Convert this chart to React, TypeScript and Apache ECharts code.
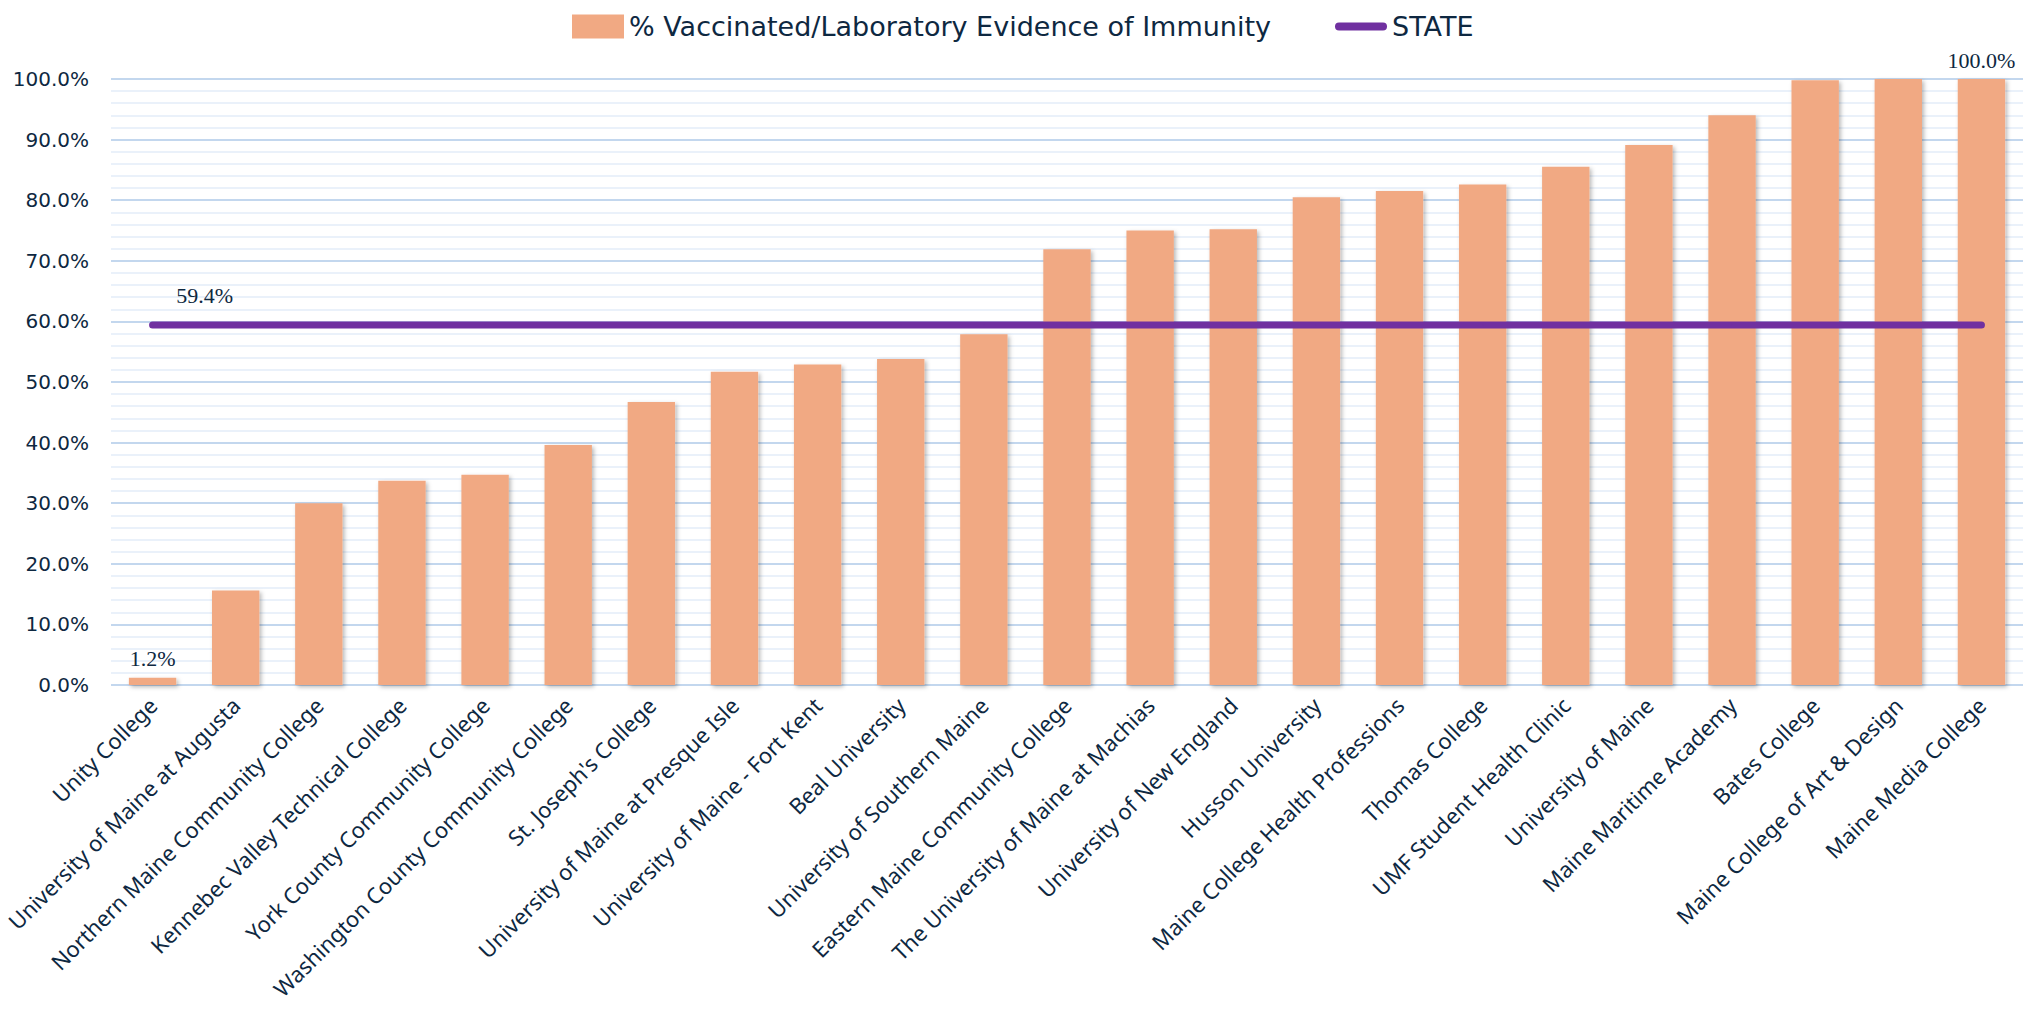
import React, { useEffect, useRef } from "react";
import * as echarts from "echarts";

const categories = [
  "Unity College",
  "University of Maine at Augusta",
  "Northern Maine Community College",
  "Kennebec Valley Technical College",
  "York County Community College",
  "Washington County Community College",
  "St. Joseph's College",
  "University of Maine at Presque Isle",
  "University of Maine - Fort Kent",
  "Beal University",
  "University of Southern Maine",
  "Eastern Maine Community College",
  "The University of Maine at Machias",
  "University of New England",
  "Husson University",
  "Maine College Health Professions",
  "Thomas College",
  "UMF Student Health Clinic",
  "University of Maine",
  "Maine Maritime Academy",
  "Bates College",
  "Maine College of Art & Design",
  "Maine Media College",
];

const vaccinated = [
  1.2, 15.6, 30.0, 33.7, 34.7, 39.6, 46.7, 51.7, 52.9, 53.8, 57.9, 71.9, 75.0,
  75.2, 80.5, 81.5, 82.6, 85.5, 89.1, 94.0, 99.8, 100.0, 100.0,
];

const stateRate = [
  59.4, 59.4, 59.4, 59.4, 59.4, 59.4, 59.4, 59.4, 59.4, 59.4, 59.4, 59.4, 59.4,
  59.4, 59.4, 59.4, 59.4, 59.4, 59.4, 59.4, 59.4, 59.4, 59.4,
];

const yTicks = [0, 10, 20, 30, 40, 50, 60, 70, 80, 90, 100];

const barName = "% Vaccinated/Laboratory Evidence of Immunity";
const lineName = "STATE";

export default function App() {
  const ref = useRef<HTMLDivElement>(null);

  useEffect(() => {
    if (!ref.current) return;
    const chart = echarts.init(ref.current, null, { renderer: "svg" });
    const textColor = "#0E2841";
    const lastIdx = vaccinated.length - 1;

    chart.setOption({
      animation: false,
      backgroundColor: "#ffffff",
      legend: {
        top: 8,
        left: 567,
        itemWidth: 52,
        itemHeight: 24,
        itemGap: 64,
        textStyle: {
          color: textColor,
          fontFamily: "DejaVu Sans",
          fontSize: 27,
        },
        data: [
          { name: barName, icon: "rect" },
          {
            name: lineName,
            icon: "path://M4,0 H48 A4,4 0 0 1 48,8 H4 A4,4 0 0 1 4,0 Z",
          },
        ],
      },
      grid: {
        left: 111,
        right: 12,
        top: 79,
        bottom: 325,
        containLabel: false,
      },
      xAxis: {
        type: "category",
        data: categories,
        axisLine: { show: false },
        axisTick: { show: false },
        axisLabel: {
          rotate: 45,
          interval: 0,
          margin: 16,
          color: textColor,
          fontFamily: "Noto Sans",
          fontSize: 22,
        },
      },
      yAxis: {
        type: "value",
        min: yTicks[0],
        max: yTicks[yTicks.length - 1],
        interval: 10,
        axisLine: { show: false },
        axisTick: { show: false },
        axisLabel: {
          margin: 22,
          color: textColor,
          fontFamily: "DejaVu Sans",
          fontSize: 20,
          formatter: (v: number) => v.toFixed(1) + "%",
        },
        splitLine: { lineStyle: { color: "#c3d7ee", width: 2 } },
        minorTick: { show: false, splitNumber: 5 },
        minorSplitLine: {
          show: true,
          lineStyle: { color: "#eaf1fa", width: 2 },
        },
      },
      series: [
        {
          name: barName,
          type: "bar",
          data: vaccinated.map((v, i) => ({
            value: v,
            label: {
              show: i === 0 || i === lastIdx,
            },
          })),
          barCategoryGap: "43%",
          itemStyle: {
            color: "#F1A983",
            shadowColor: "rgba(0,0,0,0.28)",
            shadowBlur: 4,
            shadowOffsetX: 2,
            shadowOffsetY: 2,
          },
          label: {
            position: "top",
            distance: 8,
            color: textColor,
            fontFamily: "Liberation Serif",
            fontSize: 22,
            formatter: (p: any) => Number(p.value).toFixed(1) + "%",
          },
          z: 2,
        },
        {
          name: lineName,
          type: "line",
          data: stateRate.map((v, i) => ({
            value: v,
            label: { show: i === 0 },
          })),
          symbol: "circle",
          symbolSize: 1,
          showSymbol: true,
          lineStyle: {
            color: "#7030A0",
            width: 7,
            cap: "round",
          },
          itemStyle: { color: "#7030A0" },
          label: {
            show: false,
            position: "top",
            distance: 18,
            offset: [52, 0],
            color: textColor,
            fontFamily: "Liberation Serif",
            fontSize: 22,
            formatter: (p: any) => Number(p.value).toFixed(1) + "%",
          },
          z: 3,
        },
      ],
    });

    return () => {
      chart.dispose();
    };
  }, []);

  return (
    <div
      ref={ref}
      style={{
        position: "fixed",
        left: 0,
        top: 0,
        width: 2035,
        height: 1010,
      }}
    />
  );
}
